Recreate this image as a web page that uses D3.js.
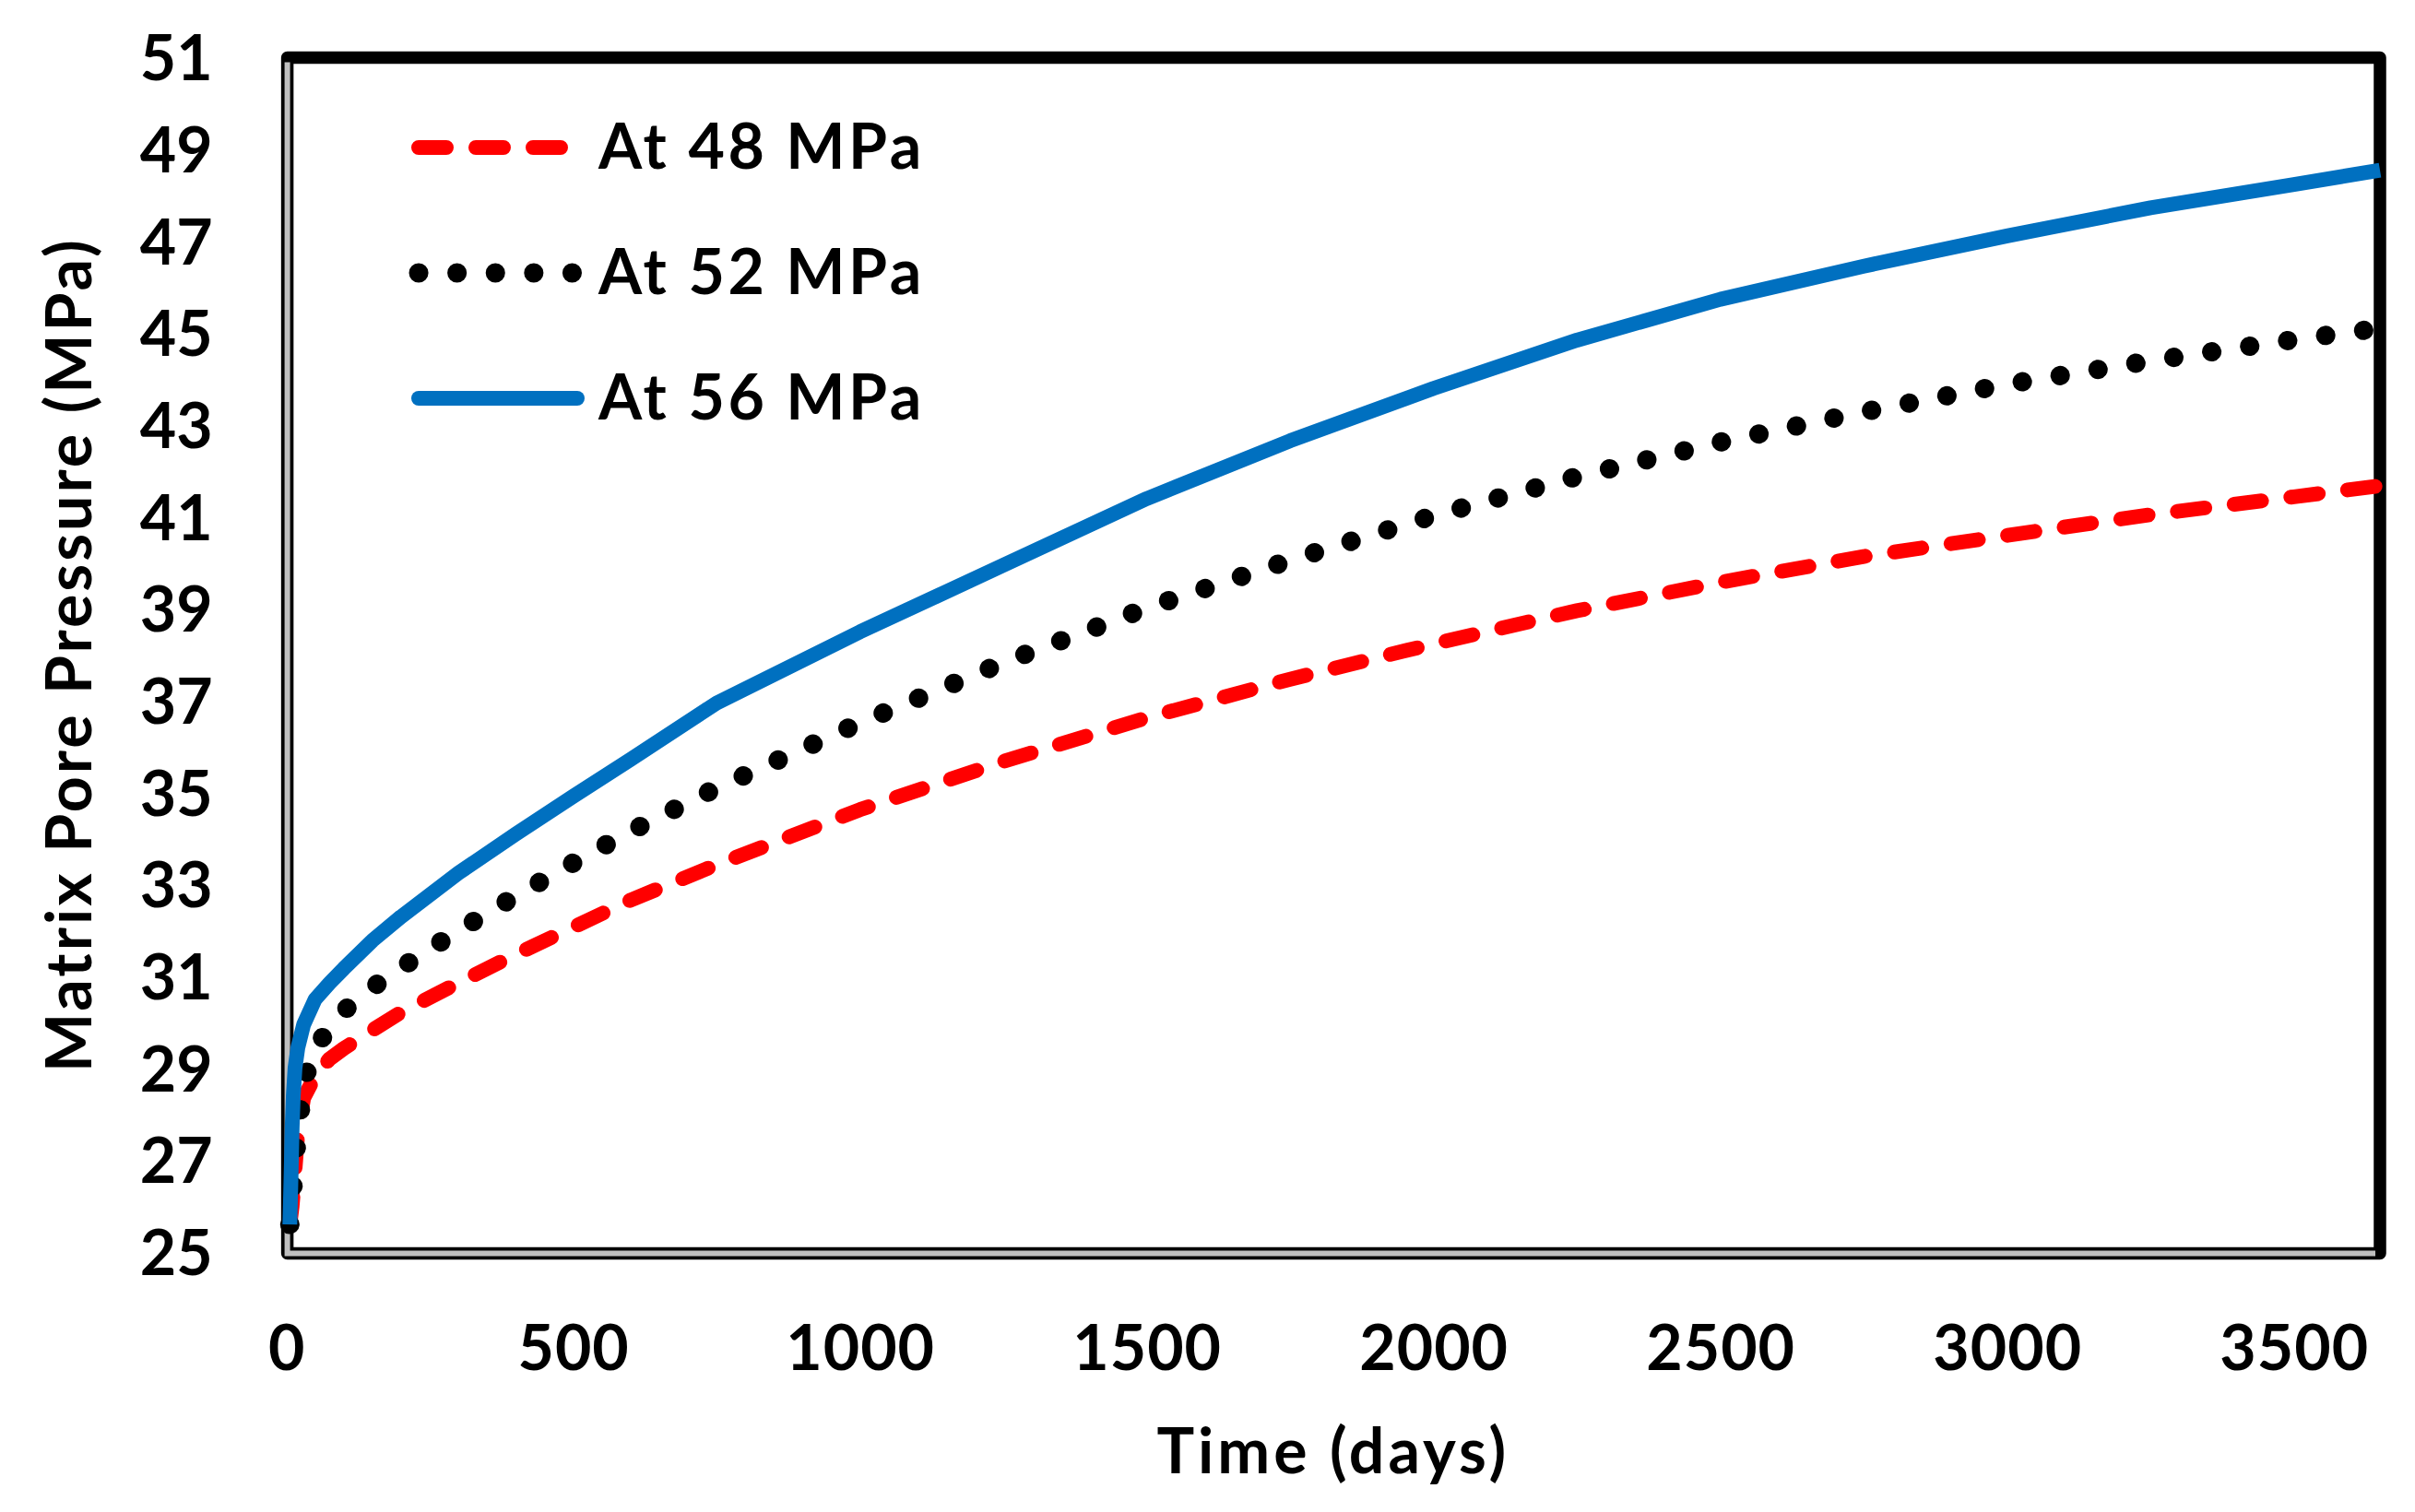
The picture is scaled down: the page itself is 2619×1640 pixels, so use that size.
<!DOCTYPE html>
<html>
<head>
<meta charset="utf-8">
<script src="https://cdn.jsdelivr.net/npm/d3@7"></script>
<style>
  body { margin: 0; background: #fff; }
  text { font-family: Lato, "Open Sans", sans-serif; font-weight: 700; fill: #000; }
</style>
</head>
<body>
<svg width="2619" height="1640"></svg>
<script>
// Values
const timeDays = [6, 8, 10, 12, 15, 20, 30, 50, 75, 100, 150, 200, 300, 400, 500, 600, 750,
                  1000, 1250, 1500, 1750, 2000, 2250, 2500, 2750, 3000, 3250, 3500, 3650];
const p48 = [25.6, 25.8, 26.0, 26.3, 26.8, 27.6, 28.35, 28.83, 29.2, 29.43, 29.83, 30.22, 30.86, 31.48, 32.07, 32.66, 33.43,
             34.63, 35.68, 36.63, 37.47, 38.24, 38.96, 39.58, 40.14, 40.6, 41.05, 41.44, 41.68];
const p52 = [25.6, 25.9, 26.2, 26.5, 27.0, 27.6, 28.7, 29.45, 29.87, 30.25, 30.76, 31.19, 32.0, 32.75, 33.47, 34.16, 35.1,
             36.52, 37.83, 39.02, 40.06, 41.03, 41.88, 42.63, 43.29, 43.89, 44.4, 44.86, 45.11];
const p56 = [25.6, 26.6, 27.7, 28.4, 29.0, 29.45, 29.95, 30.5, 30.85, 31.17, 31.78, 32.3, 33.25, 34.1, 34.92, 35.72, 36.95,
             38.5, 39.95, 41.4, 42.66, 43.8, 44.85, 45.74, 46.46, 47.12, 47.73, 48.24, 48.55];
const seriesNames = ["At 48 MPa", "At 52 MPa", "At 56 MPa"];
const yTicks = d3.range(25, 52, 2);
const xTicks = d3.range(0, 3501, 500);

const svg = d3.select("svg");
const fontSize = 68;

const x = d3.scaleLinear().domain([0, 3650]).range([310.6, 2581]);
const y = d3.scaleLinear().domain([25, 51]).range([1358, 62.5]);

// line styles per series
const styles = [
    { color: "#FF0000", width: 16, dash: "30,32", cap: "round" },
    { color: "#000000", width: 21, dash: "0.1,41.5", cap: "round" },
    { color: "#0070C0", width: 16, dash: null, cap: "butt" }
];
const series = [p48, p52, p56].map((vals, i) => ({
    name: seriesNames[i],
    style: styles[i],
    points: timeDays.map((t, j) => [t, vals[j]])
}));

// plot frame: thick black box, with a grey groove on the left and bottom sides
const [x0, x1] = x.range();
const [y0, y1] = y.range();
svg.append("rect")
    .attr("x", x0 + 1).attr("y", y1)
    .attr("width", x1 - x0 - 1).attr("height", y0 - y1 + 1.5)
    .attr("fill", "none")
    .attr("stroke", "#000")
    .attr("stroke-width", 13.5)
    .attr("stroke-linejoin", "round");
svg.append("path")
    .attr("d", `M${x0 + 1},${y1 + 5}V${y0 + 1.5}H${x1 - 5}`)
    .attr("fill", "none")
    .attr("stroke", "#BFBFBF")
    .attr("stroke-width", 6);

// axes
const yAxis = svg.append("g")
    .attr("transform", `translate(${x0},0)`)
    .call(d3.axisLeft(y).tickValues(yTicks).tickSize(0).tickPadding(80));
yAxis.select(".domain").remove();
yAxis.selectAll("text")
    .attr("dy", "0.36em")
    .style("font-size", fontSize + "px")
    .style("font-family", "Lato")
    .style("font-weight", 700);

const xAxis = svg.append("g")
    .attr("transform", `translate(0,${y0})`)
    .call(d3.axisBottom(x).tickValues(xTicks).tickFormat(d3.format("d")).tickSize(0).tickPadding(80));
xAxis.select(".domain").remove();
xAxis.selectAll("text")
    .style("font-size", fontSize + "px")
    .style("font-family", "Lato")
    .style("font-weight", 700)
    .style("letter-spacing", "1px");

// axis titles
svg.append("text")
    .attr("x", (x0 + x1) / 2)
    .attr("y", 1598)
    .attr("text-anchor", "middle")
    .style("font-size", fontSize + "px")
    .style("letter-spacing", "4px")
    .text("Time (days)");

svg.append("text")
    .attr("transform", `translate(99,${(y0 + y1) / 2}) rotate(-90)`)
    .attr("text-anchor", "middle")
    .style("font-size", fontSize + "px")
    .style("letter-spacing", "3px")
    .text("Matrix Pore Pressure (MPa)");

// series lines
const line = d3.line()
    .x(d => x(d[0]))
    .y(d => y(d[1]));

svg.append("g").selectAll("path")
    .data(series)
    .enter().append("path")
    .attr("d", d => line(d.points))
    .attr("fill", "none")
    .attr("stroke", d => d.style.color)
    .attr("stroke-width", d => d.style.width)
    .attr("stroke-dasharray", d => d.style.dash)
    .attr("stroke-linecap", d => d.style.cap)
    .attr("stroke-linejoin", "round");

// legend
const legend = svg.append("g").attr("transform", "translate(454,160)");
const rowGap = 136;
const item = legend.selectAll("g")
    .data(series)
    .enter().append("g")
    .attr("transform", (d, i) => `translate(0,${i * rowGap})`);

item.append("line")
    .attr("x1", 0).attr("x2", 172)
    .attr("y1", 0).attr("y2", 0)
    .attr("stroke", d => d.style.color)
    .attr("stroke-width", d => d.style.width)
    .attr("stroke-dasharray", d => d.style.dash)
    .attr("stroke-linecap", "round");

item.append("text")
    .attr("x", 195)
    .attr("y", 23)
    .style("font-size", fontSize + "px")
    .style("letter-spacing", "3.5px")
    .text(d => d.name);
</script>
</body>
</html>
